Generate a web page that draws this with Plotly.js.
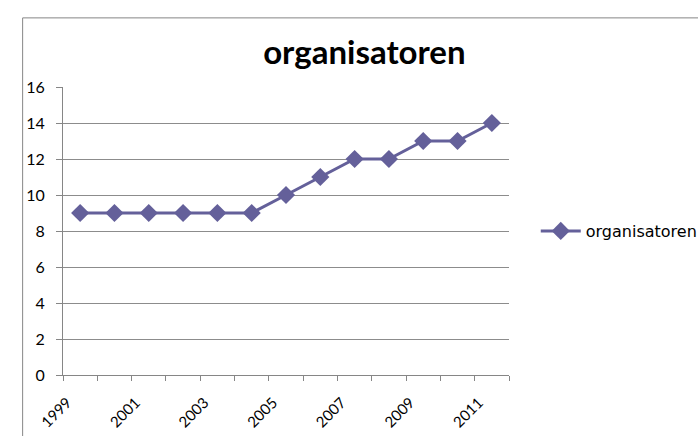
<!DOCTYPE html>
<html><head><meta charset="utf-8">
<script src="https://cdn.plot.ly/plotly-3.0.1.min.js"></script>
<style>html,body{margin:0;padding:0;background:#fff}#c{width:698px;height:436px}</style>
</head><body><div id="c"></div>
<script>
const years = [1999,2000,2001,2002,2003,2004,2005,2006,2007,2008,2009,2010,2011];
const values = [9,9,9,9,9,9,10,11,12,12,13,13,14];
const seriesName = 'organisatoren';
const chartTitle = 'organisatoren';
const yTicks = [0,2,4,6,8,10,12,14,16];

const font = 'Lato, "Liberation Sans", sans-serif';
const trace = {
  x: years, y: values, name: seriesName, type: 'scatter', mode: 'lines+markers',
  line: {color: '#64609A', width: 3},
  marker: {symbol: 'diamond', size: 14, color: '#64609A'}
};
const layout = {
  width: 698, height: 436,
  margin: {l: 63, r: 189, t: 87, b: 61, autoexpand: false},
  paper_bgcolor: '#fff', plot_bgcolor: '#fff',
  font: {family: font, color: '#000'},
  title: {text: '<b>' + chartTitle + '</b>', font: {size: 33, family: font}, x: 0.522, xanchor: 'center', y: 0.88, yanchor: 'middle'},
  showlegend: true,
  legend: {x: 1.06, xanchor: 'left', y: 0.5, yanchor: 'middle', font: {size: 16, family: '"DejaVu Sans", sans-serif'}, itemwidth: 40, bgcolor: 'rgba(0,0,0,0)'},
  xaxis: {
    range: [1998.5, 2011.5], tickmode: 'array', tickvals: years.filter((y,i)=>i%2===0),
    ticktext: years.filter((y,i)=>i%2===0).map(String),
    tickangle: -45, ticks: '', showgrid: false, zeroline: false, automargin: false,
    showline: true, linecolor: '#868686', linewidth: 1,
    tickfont: {size: 15, family: font}, ticklabelshift: -13, ticklabelstandoff: 12,
    minor: {tickmode: 'linear', tick0: 1998.5, dtick: 1, ticks: 'outside', ticklen: 5, tickcolor: '#868686', showgrid: false}
  },
  yaxis: {
    range: [0, 16], tickmode: 'array', tickvals: yTicks, ticks: 'outside', ticklen: 6, tickcolor: '#868686',
    showgrid: true, gridcolor: '#8c8c8c', gridwidth: 1, zeroline: false, automargin: false,
    showline: true, linecolor: '#868686', linewidth: 1,
    tickfont: {size: 16, family: font}, ticklabelstandoff: 8
  },
  shapes: [{type: 'rect', xref: 'paper', yref: 'paper', x0: -0.0905, x1: 1.5, y0: -0.3, y1: 1.24,
    line: {color: '#868686', width: 1}, fillcolor: 'rgba(0,0,0,0)', layer: 'below'}]
};
Plotly.newPlot('c', [trace], layout, {displayModeBar: false, staticPlot: true});
</script></body></html>
